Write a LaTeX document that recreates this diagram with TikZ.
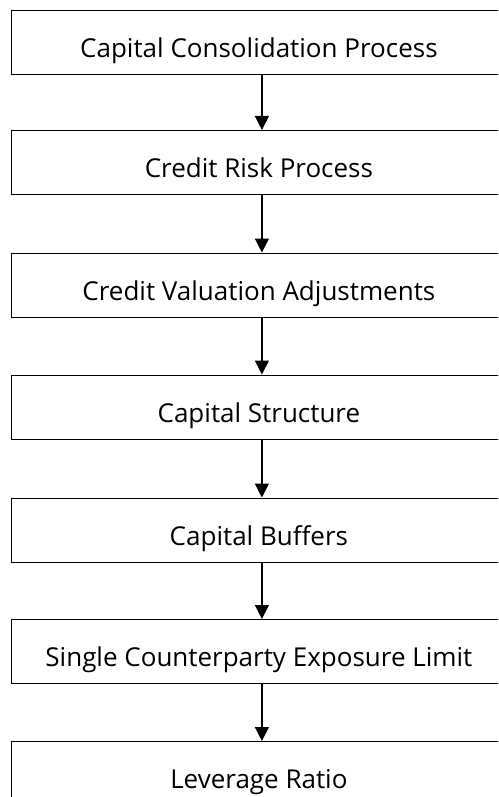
\documentclass[tikz,border=0pt]{standalone}
\usepackage{fontspec}
\setmainfont{Open Sans}
\usetikzlibrary{arrows.meta}
\begin{document}
\begin{tikzpicture}[x=1pt,y=-1pt,
  procbox/.style={draw=black,line width=1.3pt,minimum width=495.5pt,minimum height=64pt,inner sep=0pt,text height=30pt,text depth=0pt,font=\fontsize{26}{30}\selectfont},
  flow/.style={line width=1.3pt,-{Triangle[width=14pt,length=14pt]}}]
\useasboundingbox[clip] (0,0) rectangle (498,797);
\node[procbox,anchor=north west] (b1) at (10.5,10) {Capital Consolidation Process};
\node[procbox,anchor=north west] (b2) at (10.5,130) {Credit Risk Process};
\node[procbox,anchor=north west] (b3) at (10.5,252.5) {Credit Valuation Adjustments};
\node[procbox,anchor=north west] (b4) at (10.5,374.5) {Capital Structure};
\node[procbox,anchor=north west] (b5) at (10.5,497.5) {Capital Buffers};
\node[procbox,anchor=north west] (b6) at (10.5,619) {Single Counterparty Exposure Limit};
\node[procbox,anchor=north west] (b7) at (10.5,741) {Leverage Ratio};
\foreach \a/\b in {b1/b2,b2/b3,b3/b4,b4/b5,b5/b6,b6/b7}
  \draw[flow] ([xshift=3pt]\a.south) -- ([xshift=3pt]\b.north);
\end{tikzpicture}
\end{document}
